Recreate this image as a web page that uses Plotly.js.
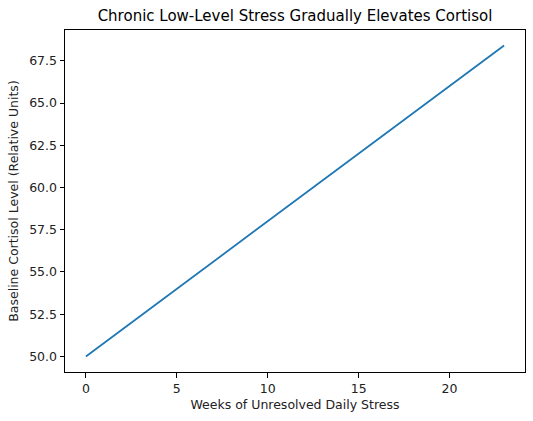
<!DOCTYPE html>
<html>
<head>
<meta charset="utf-8">
<script src="https://cdn.plot.ly/plotly-3.0.1.min.js"></script>
<style>
  html, body { margin: 0; padding: 0; background: #fff; }
  #chart { width: 533px; height: 421px; }
</style>
</head>
<body>
<div id="chart"></div>
<script>
// weeks of stress and the baseline cortisol
const weeks = [0, 1, 2, 3, 4, 5, 6, 7, 8, 9, 10, 11, 12, 13, 14, 15, 16, 17, 18, 19, 20, 21, 22, 23];
const cortisol = [50.0, 50.8, 51.6, 52.4, 53.2, 54.0, 54.8, 55.6, 56.4, 57.2, 58.0, 58.8,
                  59.6, 60.4, 61.2, 62.0, 62.8, 63.6, 64.4, 65.2, 66.0, 66.8, 67.6, 68.4];
const xTicks = [0, 5, 10, 15, 20];
const yTicks = [50.0, 52.5, 55.0, 57.5, 60.0, 62.5, 65.0, 67.5];

const font = { family: 'DejaVu Sans', size: 12.5, color: '#222' };

let trace = {
    x: weeks,
    y: cortisol,
    mode: 'lines',
    type: 'scatter',
    line: { color: '#1f77b4', width: 1.8 },
    hoverinfo: 'none'
};

let axisBase = {
    showgrid: false,
    zeroline: false,
    showline: true,
    mirror: true,
    linecolor: '#000',
    linewidth: 1,
    ticks: 'outside',
    ticklen: 4.5,
    tickwidth: 1,
    tickcolor: '#000',
    tickfont: font
};

let layout = {
    width: 533,
    height: 421,
    margin: { l: 65, r: 8, t: 30, b: 49 },
    paper_bgcolor: '#fff',
    plot_bgcolor: '#fff',
    showlegend: false,
    font: font,
    title: {
        text: 'Chronic Low-Level Stress Gradually Elevates Cortisol',
        font: { family: 'DejaVu Sans', size: 15, color: '#000' },
        x: 0.5,
        xref: 'paper',
        xanchor: 'center',
        y: 0.962,
        yanchor: 'middle'
    },
    xaxis: Object.assign({}, axisBase, {
        range: [-1.15, 24.15],
        tickvals: xTicks,
        ticktext: xTicks.map(String),
        title: { text: 'Weeks of Unresolved Daily Stress', font: font, standoff: 5 }
    }),
    yaxis: Object.assign({}, axisBase, {
        range: [49.08, 69.32],
        tickvals: yTicks,
        ticktext: yTicks.map(v => v.toFixed(1)),
        title: { text: 'Baseline Cortisol Level (Relative Units)', font: font, standoff: 7 }
    })
};

Plotly.newPlot('chart', [trace], layout, { displayModeBar: false, staticPlot: true });
</script>
</body>
</html>
